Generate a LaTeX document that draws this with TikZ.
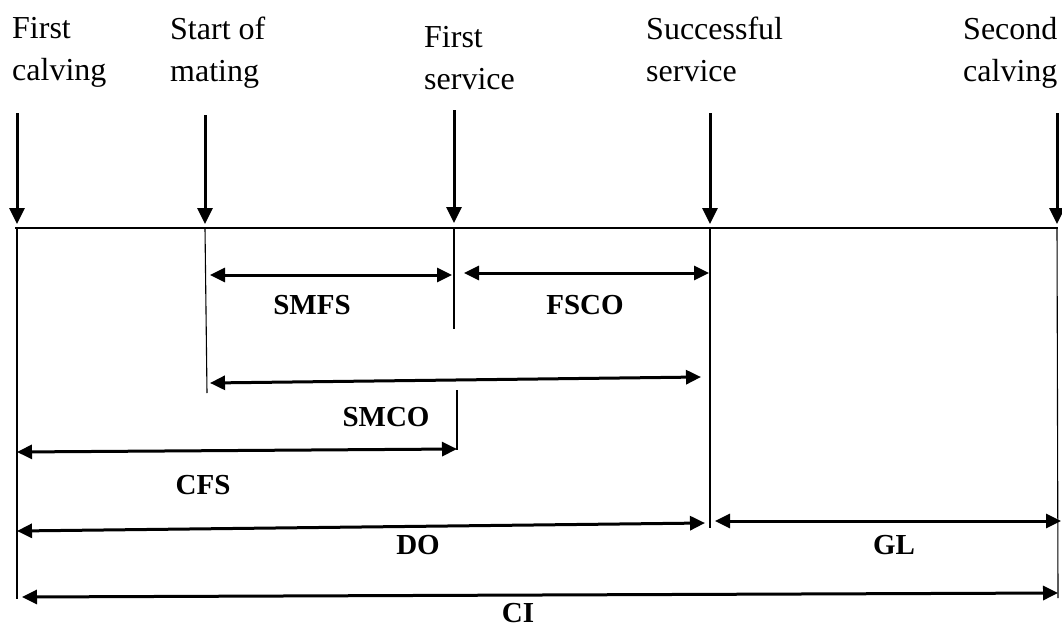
\documentclass[tikz,border=0pt]{standalone}
\usepackage{fontspec}
\setmainfont{Liberation Serif}
\usetikzlibrary{arrows.meta}

\tikzset{
  event/.style={font=\fontsize{32}{42}\selectfont, align=left, anchor=north west, inner sep=0pt},
  period/.style={font=\bfseries\fontsize{29}{30}\selectfont, inner sep=0pt},
  pointer/.style={line width=3pt, -{Triangle[length=16pt,width=15pt]}},
  interval/.style={line width=3pt, {Triangle[length=15pt,width=14pt]}-{Triangle[length=15pt,width=14pt]}},
  guide/.style={line width=1.1pt}
}

\begin{document}
\begin{tikzpicture}[x=1pt, y=-1pt]
  \useasboundingbox (0,0) rectangle (1062,629);

  % events
  \node[event] (fcText) at (12,17) {First\\calving};
  \node[event] (smText) at (170,17) {Start of\\mating};
  \node[event] (fsText) at (424,26) {First\\service};
  \node[event] (ssText) at (646,17) {Successful\\service};
  \node[event] (scText) at (963,17) {Second\\calving};

  % points on the time line
  \coordinate (fc) at (17,228);
  \coordinate (sm) at (205,228);
  \coordinate (fs) at (454,228);
  \coordinate (ss) at (710,228);
  \coordinate (sc) at (1057,228);

  \coordinate (fcTop) at (17,113);
  \coordinate (smTop) at (205,115);
  \coordinate (fsTop) at (454,110);
  \coordinate (ssTop) at (710,113);
  \coordinate (scTop) at (1057,113);

  \coordinate (fcEnd) at (17,599);
  \coordinate (smEnd) at (207,393);
  \coordinate (fsEnd) at (454,329);
  \coordinate (fsLow) at (457,390);
  \coordinate (fsLowEnd) at (457,450);
  \coordinate (ssEnd) at (710,528);
  \coordinate (scEnd) at (1058,598);

  \draw[guide] ([xshift=-2pt]fc) -- ([xshift=1pt]sc);

  \draw[pointer] (fcTop) -- ([yshift=4pt]fc);
  \draw[pointer] (smTop) -- ([yshift=4pt]sm);
  \draw[pointer] (fsTop) -- ([yshift=5pt]fs);
  \draw[pointer] (ssTop) -- ([yshift=4pt]ss);
  \draw[pointer] (scTop) -- ([yshift=4pt]sc);

  \draw[guide] (fc) -- (fcEnd);
  \draw[guide] (sm) -- (smEnd);
  \draw[guide] (fs) -- (fsEnd);
  \draw[guide] (fsLow) -- (fsLowEnd);
  \draw[guide] (ss) -- (ssEnd);
  \draw[guide] (sc) -- (scEnd);

  % intervals
  \coordinate (smfsL) at (210,275);   \coordinate (smfsR) at (452,275);
  \coordinate (fscoL) at (464,273);   \coordinate (fscoR) at (709,273);
  \coordinate (smcoL) at (210,383);   \coordinate (smcoR) at (701,377);
  \coordinate (cfsL) at (17,452);     \coordinate (cfsR) at (457,449);
  \coordinate (doL) at (17,531);      \coordinate (doR) at (705,523);
  \coordinate (glL) at (715,521);     \coordinate (glR) at (1061,521);
  \coordinate (ciL) at (22,597);      \coordinate (ciR) at (1058,593);

  \draw[interval] (smfsL) -- (smfsR);
  \draw[interval] (fscoL) -- (fscoR);
  \draw[interval] (smcoL) -- (smcoR);
  \draw[interval] (cfsL) -- (cfsR);
  \draw[interval] (doL) -- (doR);
  \draw[interval] (glL) -- (glR);
  \draw[interval] (ciL) -- (ciR);

  \node[period] (smfs) at (312,305) {SMFS};
  \node[period] (fsco) at (585,305) {FSCO};
  \node[period] (smco) at (386,417) {SMCO};
  \node[period] (cfs) at (203,485) {CFS};
  \node[period] (do) at (418,545) {DO};
  \node[period] (gl) at (894,545) {GL};
  \node[period] (ci) at (518,613) {CI};
\end{tikzpicture}
\end{document}
